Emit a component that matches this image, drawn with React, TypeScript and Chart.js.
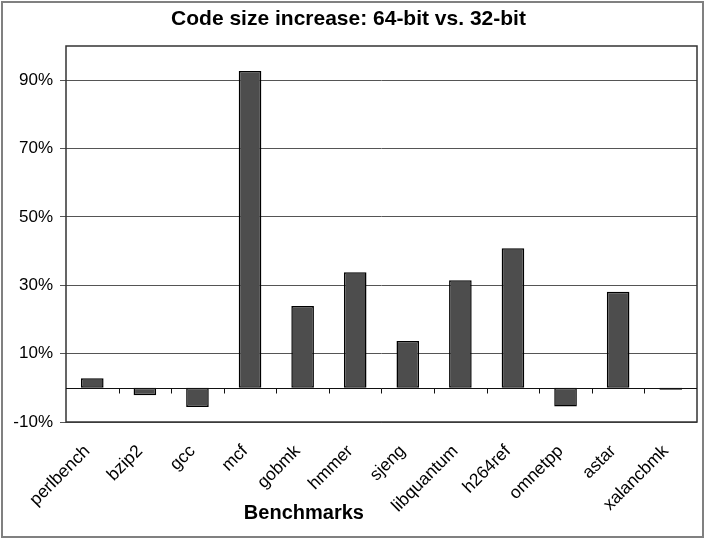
import React, { useEffect, useRef } from "react";
import { Chart, registerables } from "chart.js";

Chart.register(...registerables);

const categories = [
  "perlbench", "bzip2", "gcc", "mcf", "gobmk", "hmmer",
  "sjeng", "libquantum", "h264ref", "omnetpp", "astar", "xalancbmk",
];
const increase = [2.8, -2.2, -5.6, 92.7, 23.9, 33.8, 13.7, 31.5, 40.8, -5.5, 28.1, -0.6];
const yTicks = [-10, 10, 30, 50, 70, 90];
const yMin = -10;
const yMax = 100;
const titleText = "Code size increase: 64-bit vs. 32-bit";
const xTitleText = "Benchmarks";

const FONT = "'Liberation Sans', Arial, Helvetica, sans-serif";

const decorPlugin = {
  id: "decor",
  beforeDraw(chart: any) {
    const ctx = chart.ctx;
    ctx.save();
    ctx.fillStyle = "#ffffff";
    ctx.fillRect(0, 0, chart.width, chart.height);
    ctx.strokeStyle = "#808080";
    ctx.lineWidth = 2;
    ctx.strokeRect(2, 2, chart.width - 4, chart.height - 3);
    ctx.restore();
  },
  afterDraw(chart: any) {
    const ctx = chart.ctx;
    const a = chart.chartArea;
    const x = chart.scales.x;
    const y = chart.scales.y;
    ctx.save();
    // plot frame
    ctx.strokeStyle = "#333333";
    ctx.lineWidth = 1.5;
    ctx.strokeRect(a.left, a.top, a.right - a.left, a.bottom - a.top);
    // zero axis line with category ticks
    const y0 = Math.round(y.getPixelForValue(0)) + 0.5;
    ctx.strokeStyle = "#111111";
    ctx.lineWidth = 1;
    ctx.beginPath();
    ctx.moveTo(a.left, y0);
    ctx.lineTo(a.right, y0);
    const n = categories.length;
    const step = (a.right - a.left) / n;
    for (let i = 1; i < n; i++) {
      const tx = Math.round(x.getPixelForValue(i) - step / 2) + 0.5;
      ctx.moveTo(tx, y0);
      ctx.lineTo(tx, y0 + 5);
    }
    ctx.stroke();
    // x axis title
    ctx.fillStyle = "#000000";
    ctx.font = `bold 20px ${FONT}`;
    ctx.textAlign = "center";
    ctx.textBaseline = "middle";
    ctx.fillText(xTitleText, a.left + (a.right - a.left) * 0.377, 513);
    ctx.restore();
  },
};

export default function App() {
  const ref = useRef<HTMLCanvasElement | null>(null);

  useEffect(() => {
    document.body.style.margin = "0";
    const canvas = ref.current;
    if (!canvas) return;
    const chart = new Chart(canvas, {
      type: "bar",
      data: {
        labels: categories,
        datasets: [
          {
            data: increase,
            backgroundColor: "#4d4d4d",
            borderColor: "#000000",
            borderWidth: 1.5,
            borderSkipped: false,
            barPercentage: 0.86,
            categoryPercentage: 0.5,
          },
        ],
      },
      options: {
        animation: false,
        responsive: false,
        devicePixelRatio: 1,
        layout: { padding: { left: 0, right: 8, top: 0, bottom: 0 } },
        plugins: {
          legend: { display: false },
          tooltip: { enabled: false },
          title: {
            display: true,
            text: titleText,
            color: "#000000",
            font: { family: FONT, size: 21, weight: "bold", lineHeight: 1.2 },
            padding: { top: 7, bottom: 13.8 },
          },
        },
        scales: {
          x: {
            grid: { display: false },
            border: { display: false },
            ticks: {
              color: "#000000",
              font: { family: FONT, size: 17.5 },
              minRotation: 45,
              maxRotation: 45,
              autoSkip: false,
              padding: 11,
              labelOffset: -5,
            },
            afterFit(scale: any) {
              scale.height = 116;
            },
          },
          y: {
            min: yMin,
            max: yMax,
            afterBuildTicks(scale: any) {
              scale.ticks = yTicks.map((v) => ({ value: v }));
            },
            ticks: {
              color: "#000000",
              font: { family: FONT, size: 17 },
              padding: 7,
              callback: (v: any) => `${v}%`,
            },
            grid: {
              color: "#555555",
              lineWidth: 1,
              tickLength: 6,
            },
            border: { display: false },
            afterFit(scale: any) {
              scale.width = 66;
            },
          },
        },
      },
      plugins: [decorPlugin],
    } as any);
    return () => chart.destroy();
  }, []);

  return (
    <div style={{ width: 705, height: 538 }}>
      <canvas ref={ref} width={705} height={538} style={{ width: 705, height: 538, display: "block" }} />
    </div>
  );
}
